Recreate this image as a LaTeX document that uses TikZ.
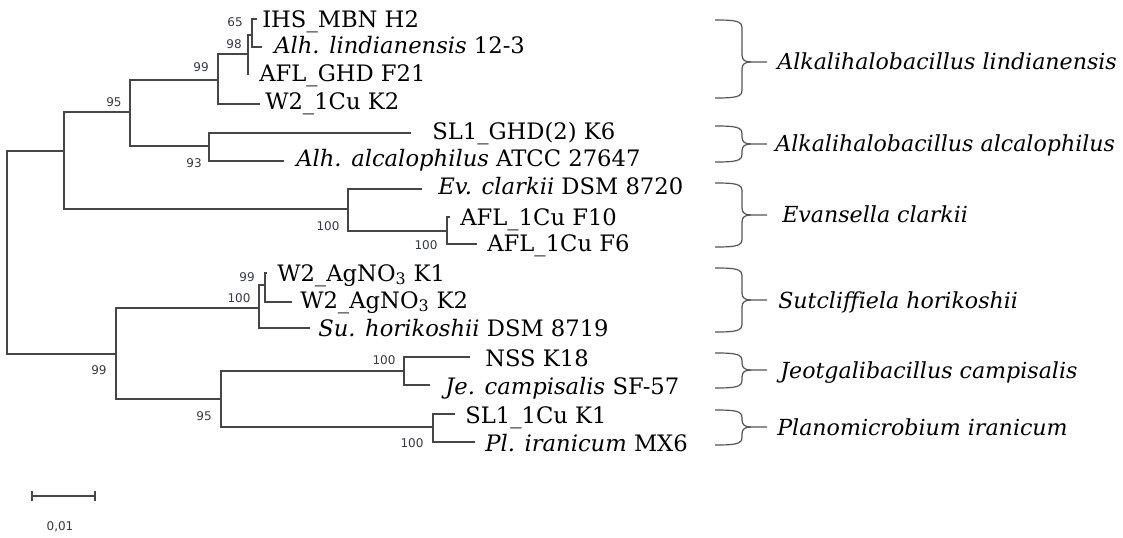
\documentclass[tikz,border=0pt]{standalone}
\usepackage{fontspec}
\setmainfont{DejaVu Serif}
\newfontfamily\bootfont{DejaVu Sans}
\usetikzlibrary{positioning}
\definecolor{branchgray}{RGB}{70,70,70}
\definecolor{bootgray}{RGB}{55,55,70}
\definecolor{bracegray}{RGB}{85,85,85}
\tikzset{
  branch/.style   = {draw=branchgray, line width=1pt},
  leaf/.style     = {anchor=base west, inner sep=0pt, yshift=-6pt,
                     font=\fontsize{17}{20}\selectfont},
  boot/.style     = {inner sep=0pt, text=bootgray,
                     font=\bootfont\fontsize{9}{10}\selectfont},
  taxon/.style    = {anchor=base west, inner sep=0pt, yshift=-6pt,
                     font=\itshape\fontsize{16.6}{20}\selectfont},
  grpbrace/.style = {draw=bracegray, line width=0.9pt},
}
% curly bracket: top, bottom, middle (in px)
\newcommand{\grpbr}[3]{%
  \draw[grpbrace] (715,#1) .. controls (736,#1) and (742,#1+1) .. (742,#1+8)
    -- (742,#3-7) .. controls (742,#3-2) and (745,#3) .. (751,#3) -- (767,#3);
  \draw[grpbrace] (715,#2) .. controls (736,#2) and (742,#2-1) .. (742,#2-8)
    -- (742,#3+7) .. controls (742,#3+2) and (745,#3) .. (751,#3);
}

\begin{document}
\begin{tikzpicture}[x=0.75pt, y=-0.75pt]
  \useasboundingbox (0,0) rectangle (1123,538);

  % inner nodes
  \coordinate (r)    at (7,252);
  \coordinate (nA)   at (64,151);
  \coordinate (n95)  at (130,112);
  \coordinate (n99a) at (218,80);
  \coordinate (n98)  at (248,54);
  \coordinate (n65)  at (252,35);
  \coordinate (n93)  at (209,146);
  \coordinate (nEv)  at (348,209);
  \coordinate (nF)   at (447,231);
  \coordinate (nB)   at (116,354);
  \coordinate (nSu)  at (259,308);
  \coordinate (n99b) at (265,285);
  \coordinate (nJP)  at (221,399);
  \coordinate (nJe)  at (404,371);
  \coordinate (nPl)  at (433,427);

  % branch tips
  \coordinate (tIHS)  at (257,19);
  \coordinate (tAlhL) at (262,47);
  \coordinate (tAFLG) at (248,75);
  \coordinate (tW2Cu) at (260,104);
  \coordinate (tSLG)  at (411,133);
  \coordinate (tAlhA) at (284,161);
  \coordinate (tEv)   at (422,189);
  \coordinate (tF10)  at (450,217);
  \coordinate (tF6)   at (477,244);
  \coordinate (tAg1)  at (267,273);
  \coordinate (tAg2)  at (292,302);
  \coordinate (tSu)   at (310,328);
  \coordinate (tNSS)  at (470,357);
  \coordinate (tJe)   at (430,385);
  \coordinate (tSL1)  at (455,414);
  \coordinate (tPl)   at (475,442);

  \draw[branch] (r) |- (nA) (r) |- (nB)
    (nA) |- (n95) (nA) |- (nEv)
    (n95) |- (n99a) (n95) |- (n93)
    (n99a) |- (n98) (n99a) |- (tW2Cu)
    (n98) |- (n65) (n98) |- (tAFLG)
    (n65) |- (tIHS) (n65) |- (tAlhL)
    (n93) |- (tSLG) (n93) |- (tAlhA)
    (nEv) |- (tEv) (nEv) |- (nF)
    (nF) |- (tF10) (nF) |- (tF6)
    (nB) |- (nSu) (nB) |- (nJP)
    (nSu) |- (n99b) (nSu) |- (tSu)
    (n99b) |- (tAg1) (n99b) |- (tAg2)
    (nJP) |- (nJe) (nJP) |- (nPl)
    (nJe) |- (tNSS) (nJe) |- (tJe)
    (nPl) |- (tSL1) (nPl) |- (tPl);

  % strains
  \node[leaf] (lIHS)  at (262,20)  {IHS\_MBN H2};
  \node[leaf] (lAlhL) at (274,46)  {\textit{Alh. lindianensis} 12-3};
  \node[leaf] (lAFLG) at (259,74)  {AFL\_GHD F21};
  \node[leaf] (lW2Cu) at (265,102) {W2\_1Cu K2};
  \node[leaf] (lSLG)  at (432,132) {SL1\_GHD(2) K6};
  \node[leaf] (lAlhA) at (296,159) {\textit{Alh. alcalophilus} ATCC 27647};
  \node[leaf] (lEv)   at (438,187) {\textit{Ev. clarkii} DSM 8720};
  \node[leaf] (lF10)  at (460,217) {AFL\_1Cu F10};
  \node[leaf] (lF6)   at (487,244) {AFL\_1Cu F6};
  \node[leaf] (lAg1)  at (277,273) {W2\_AgNO\textsubscript{3} K1};
  \node[leaf] (lAg2)  at (300,300) {W2\_AgNO\textsubscript{3} K2};
  \node[leaf] (lSu)   at (318,328) {\textit{Su. horikoshii} DSM 8719};
  \node[leaf] (lNSS)  at (485,358) {NSS K18};
  \node[leaf] (lJe)   at (445,386) {\textit{Je. campisalis} SF-57};
  \node[leaf] (lSL1)  at (465,415) {SL1\_1Cu K1};
  \node[leaf] (lPl)   at (485,443) {\textit{Pl. iranicum} MX6};

  % bootstrap values
  \node[boot] (b65)  at (235,22)  {65};
  \node[boot] (b98)  at (234,44)  {98};
  \node[boot] (b99a) at (201,67)  {99};
  \node[boot] (b95a) at (114,102) {95};
  \node[boot] (b93)  at (194,163) {93};
  \node[boot] (b100a) at (328,226) {100};
  \node[boot] (b100b) at (426,245) {100};
  \node[boot] (b99b) at (99,370)  {99};
  \node[boot] (b99c) at (247,277) {99};
  \node[boot] (b100c) at (239,298) {100};
  \node[boot] (b95b) at (204,416) {95};
  \node[boot] (b100d) at (384,360) {100};
  \node[boot] (b100e) at (412,443) {100};

  % species groups
  \grpbr{20}{98}{62}
  \grpbr{126}{162}{144}
  \grpbr{183}{247}{215}
  \grpbr{268}{332}{300}
  \grpbr{353}{388}{370}
  \grpbr{410}{445}{427}
  \node[taxon] (gLin) at (777,62)  {Alkalihalobacillus lindianensis};
  \node[taxon] (gAlc) at (775,144) {Alkalihalobacillus alcalophilus};
  \node[taxon] (gEv)  at (782,215) {Evansella clarkii};
  \node[taxon] (gSu)  at (778,300) {Sutcliffiela horikoshii};
  \node[taxon] (gJe)  at (780,370) {Jeotgalibacillus campisalis};
  \node[taxon] (gPl)  at (777,427) {Planomicrobium iranicum};

  % scale bar
  \coordinate (sb0) at (32,496);
  \coordinate (sb1) at (95,496);
  \draw[branch] (sb0) -- (sb1) ([yshift=-4pt]sb0) -- ([yshift=4pt]sb0)
    ([yshift=-4pt]sb1) -- ([yshift=4pt]sb1);
  \node[boot] (sblbl) at (60,527) {0,01};
\end{tikzpicture}
\end{document}
